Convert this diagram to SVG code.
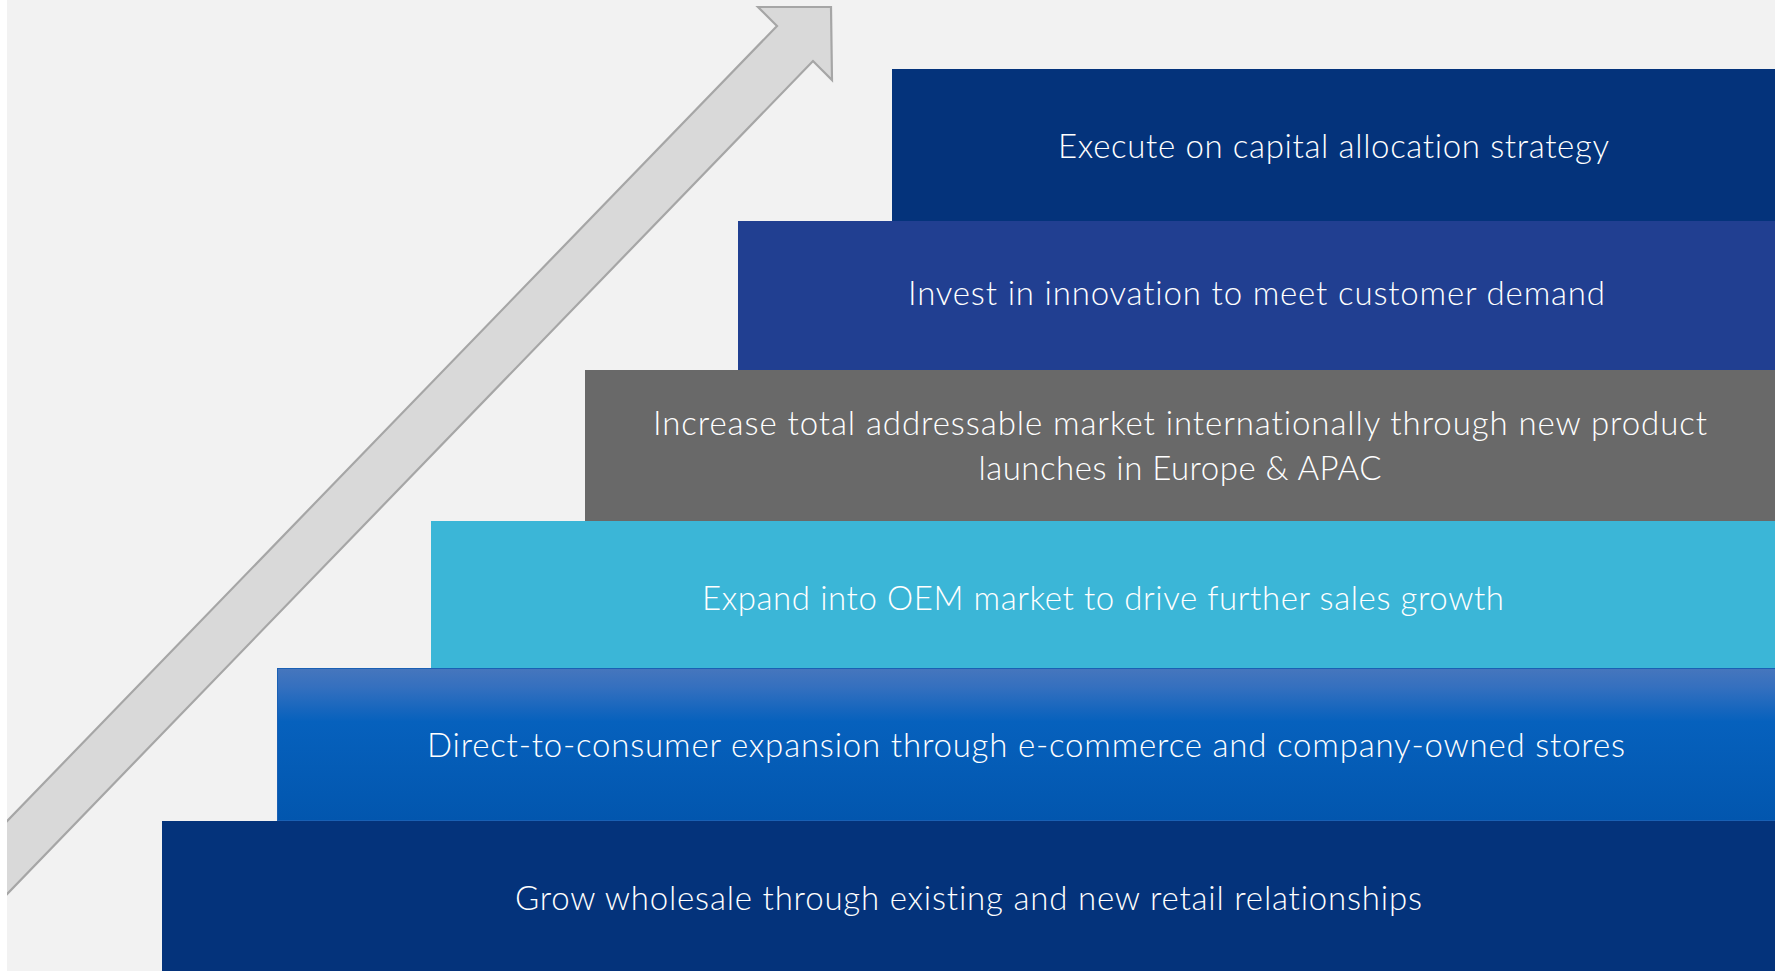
<svg xmlns="http://www.w3.org/2000/svg" width="1775" height="971" viewBox="0 0 1775 971">
  <defs>
    <style>
      .lbl { font-family: Lato, "Open Sans", "Liberation Sans", sans-serif; font-weight: 300; font-size: 33px; fill: #ffffff; text-anchor: middle; font-variant-ligatures: none; font-feature-settings: "liga" 0, "clig" 0, "dlig" 0; letter-spacing: 0.01px; }
    </style>
    <linearGradient id="dtcFill" x1="0" y1="0" x2="0" y2="1">
      <stop offset="0" stop-color="#4676bd"/>
      <stop offset="0.12" stop-color="#3570bf"/>
      <stop offset="0.35" stop-color="#0661bd"/>
      <stop offset="1" stop-color="#0256ae"/>
    </linearGradient>
  </defs>

  <!-- canvas -->
  <rect x="0" y="0" width="1775" height="971" fill="#f2f2f2"/>

  <!-- rising block arrow -->
  <g id="growth-arrow">
    <polygon points="758,7 831,7 832,80 813,61 -20,922 -20,849 777,26"
             fill="#d9d9d9" stroke="#a6a6a6" stroke-width="2.2" stroke-linejoin="miter"/>
  </g>
  <rect x="0" y="0" width="7" height="971" fill="#ffffff"/>

  <!-- staircase steps, bottom to top -->
  <g id="step-wholesale">
    <rect x="162" y="821" width="1613" height="150" fill="#04337b"/>
    <text class="lbl" x="968.5" y="910" textLength="907">Grow wholesale through existing and new retail relationships</text>
  </g>

  <g id="step-dtc">
    <rect x="277.5" y="668.5" width="1498" height="152" fill="url(#dtcFill)" stroke="#1a60b4" stroke-width="1"/>
    <text class="lbl" x="1026" y="757" textLength="1198">Direct-to-consumer expansion through e-commerce and company-owned stores</text>
  </g>

  <g id="step-oem">
    <rect x="431" y="521" width="1344" height="147" fill="#3bb6d7"/>
    <text class="lbl" x="1103" y="610" textLength="802">Expand into OEM market to drive further sales growth</text>
  </g>

  <g id="step-international">
    <rect x="585" y="370" width="1190" height="151" fill="#696969"/>
    <text class="lbl" x="1180" y="435" textLength="1054">Increase total addressable market internationally through new product</text>
    <text class="lbl" x="1180" y="480" textLength="403">launches in Europe &amp; APAC</text>
  </g>

  <g id="step-innovation">
    <rect x="738" y="221" width="1037" height="149" fill="#213f91"/>
    <text class="lbl" x="1256.5" y="305" textLength="697">Invest in innovation to meet customer demand</text>
  </g>

  <g id="step-capital">
    <rect x="892" y="69" width="883" height="152" fill="#04337b"/>
    <text class="lbl" x="1333.5" y="158" textLength="551">Execute on capital allocation strategy</text>
  </g>

  <!-- no connectors in this figure -->
  <g id="connectors"/>
</svg>
